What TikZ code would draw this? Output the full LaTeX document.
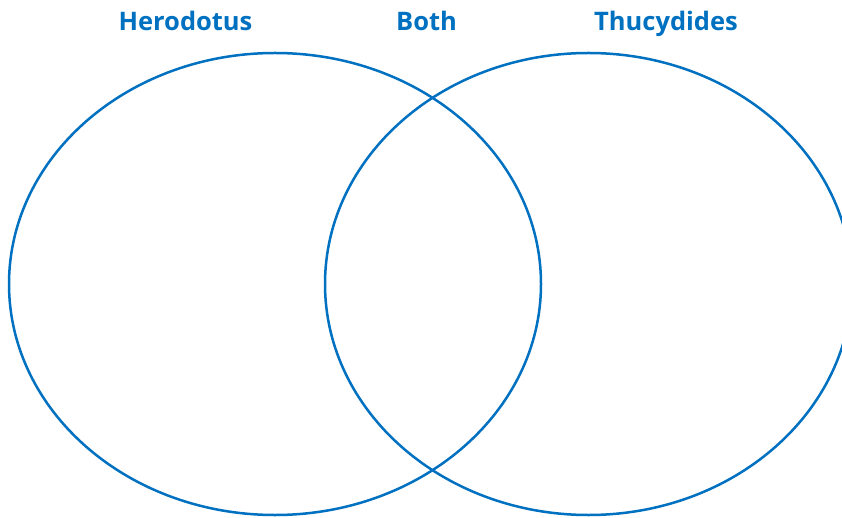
\documentclass[tikz,border=0pt]{standalone}
\usepackage{fontspec}
\setmainfont{Open Sans}
\definecolor{vennblue}{RGB}{0,112,192}
\begin{document}
\begin{tikzpicture}[x=1pt,y=1pt,
  ring/.style={draw=vennblue,line width=2.5pt},
  heading/.style={text=vennblue,font=\fontsize{25.5}{30}\selectfont\bfseries,anchor=base,inner sep=0pt}]
  \useasboundingbox (0,0) rectangle (842,517);
  \begin{scope}
    \clip (0,0) rectangle (842,517);
    \draw[ring] (275,233) ellipse [x radius=266, y radius=231];
    \draw[ring] (588.5,233) ellipse [x radius=263.5, y radius=231];
  \end{scope}
  \node[heading] (herodotus) at (185.5,486.5) {Herodotus};
  \node[heading] (both) at (426.5,486.5) {Both};
  \node[heading] (thucydides) at (666,486.5) {Thucydides};
\end{tikzpicture}
\end{document}
